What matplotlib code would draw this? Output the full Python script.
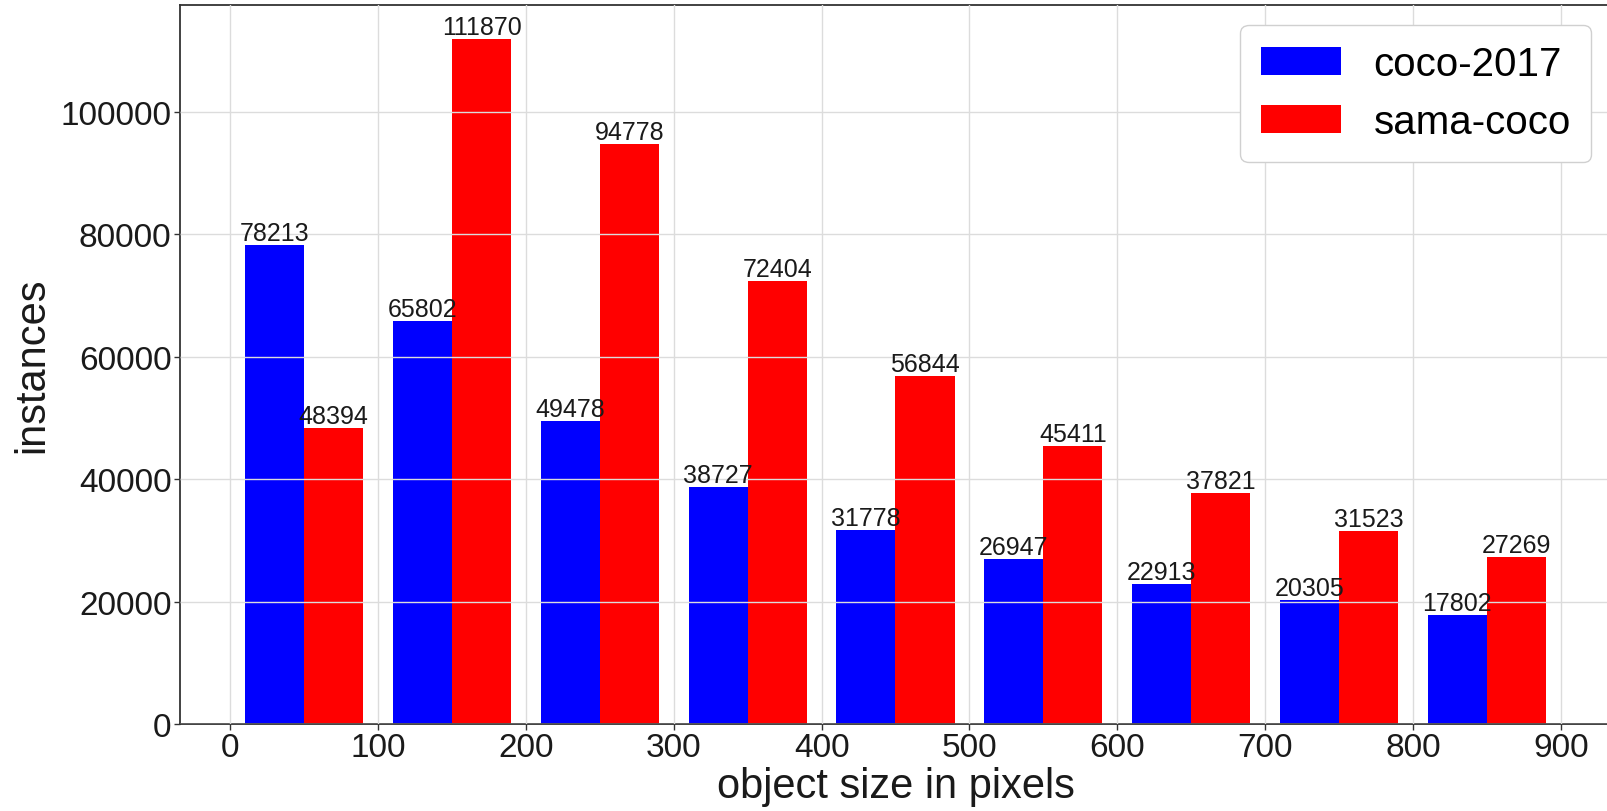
import numpy as np
import matplotlib
matplotlib.use("Agg")
import matplotlib.pyplot as plt

plt.rcParams["font.family"] = ["Liberation Sans", "DejaVu Sans"]

# object size bins (left edge, pixels) and instance counts per dataset
BIN_STARTS = [0, 100, 200, 300, 400, 500, 600, 700, 800]
COCO_2017 = [78213, 65802, 49478, 38727, 31778, 26947, 22913, 20305, 17802]
SAMA_COCO = [48394, 111870, 94778, 72404, 56844, 45411, 37821, 31523, 27269]

BIN_WIDTH = 100
BAR_WIDTH = 40

fig = plt.figure(figsize=(16.08, 8.12), dpi=100)
ax = fig.add_axes([0.1119, 0.1071, 0.8900, 0.8855])

centers = np.array(BIN_STARTS) + BIN_WIDTH / 2
b1 = ax.bar(centers - BAR_WIDTH / 2, COCO_2017, BAR_WIDTH, color="blue", label="coco-2017")
b2 = ax.bar(centers + BAR_WIDTH / 2, SAMA_COCO, BAR_WIDTH, color="red", label="sama-coco")
ax.bar_label(b1, fontsize=18, padding=0, color="#1a1a1a")
ax.bar_label(b2, fontsize=18, padding=0, color="#1a1a1a")

ax.set_xticks(range(0, 1000, 100))
ax.set_yticks(range(0, 120000, 20000))
ax.tick_params(labelsize=24, length=4, width=1, pad=2, color="#333333", labelcolor="#1a1a1a")
ax.set_xlabel("object size in pixels", fontsize=30, color="#1a1a1a", labelpad=2)
ax.set_ylabel("instances", fontsize=30, color="#1a1a1a", labelpad=6)

ax.grid(True, color="#dcdcdc", linewidth=1.0)
ax.set_axisbelow(False)
for s in ax.spines.values():
    s.set_color("#333333")
    s.set_linewidth(1.3)

ax.legend(loc="upper right", fontsize=29, framealpha=1, edgecolor="#d0d0d0",
          handlelength=2.0, borderpad=0.5)

fig.savefig("out.png", dpi=100)
